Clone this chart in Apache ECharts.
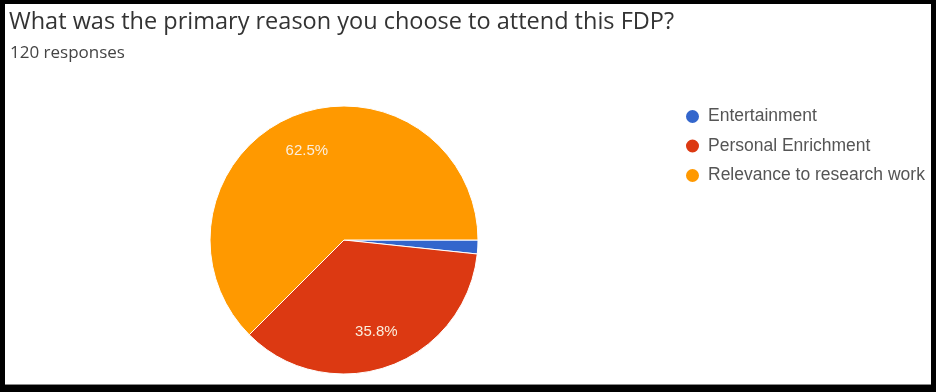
<!DOCTYPE html>
<html>
<head>
<meta charset="utf-8">
<script src="https://cdn.jsdelivr.net/npm/echarts@6/dist/echarts.min.js"></script>
<style>
    html, body { margin: 0; padding: 0; background: #000; }
    #chart {
        position: absolute;
        left: 5px;
        top: 4px;
        width: 926px;
        height: 380px;
        background: #fff;
        border-bottom: 1px solid #8a8a8a;
    }
</style>
</head>
<body>
<div id="chart"></div>
<script>
// answers and how many of the 120 people gave them
var categories = ['Entertainment', 'Personal Enrichment', 'Relevance to research work']
var responses = [2, 43, 75]
var colors = ['#3366cc', '#dc3912', '#ff9900']

var pieData = categories.map(function (name, i) {
    return { name: name, value: responses[i] }
})

var chart = echarts.init(document.getElementById('chart'))
chart.setOption({
    color: colors,
    animation: false,
    title: [{
        text: 'What was the primary reason you choose to attend this FDP?',
        left: -1,
        top: 1,
        textStyle: {
            fontFamily: 'Open Sans',
            fontWeight: 'normal',
            fontSize: 23.5,
            color: '#333'
        }
    }, {
        text: '120 responses',
        left: 0,
        top: 36,
        textStyle: {
            fontFamily: 'Open Sans',
            fontWeight: 'normal',
            fontSize: 17,
            color: '#444'
        }
    }],
    legend: {
        orient: 'vertical',
        left: 674,
        top: 97,
        icon: 'circle',
        itemWidth: 15,
        itemHeight: 15,
        itemGap: 8.5,
        data: categories,
        textStyle: {
            fontFamily: 'Liberation Sans',
            fontSize: 17.5,
            lineHeight: 21,
            color: '#555',
            padding: [0, 0, 0, 3]
        }
    },
    series: [{
        // the slices
        type: 'pie',
        center: [339, 236],
        radius: [0, 134],
        startAngle: 0,
        clockwise: true,
        silent: true,
        itemStyle: { borderColor: '#fff', borderWidth: 1 },
        label: { show: false },
        labelLine: { show: false },
        data: pieData
    }, {
        // label ring only, so the percents sit at ~0.7 of the radius like Google Forms
        type: 'pie',
        center: [339, 236],
        radius: [54, 134],
        startAngle: 0,
        clockwise: true,
        silent: true,
        itemStyle: { color: 'rgba(0,0,0,0)' },
        label: {
            show: true,
            position: 'inside',
            fontFamily: 'Liberation Sans',
            fontSize: 15,
            color: '#fbeedd',
            formatter: function (p) {
                return p.percent < 5 ? '' : p.percent.toFixed(1) + '%'
            }
        },
        labelLine: { show: false },
        data: pieData
    }]
})
</script>
</body>
</html>
